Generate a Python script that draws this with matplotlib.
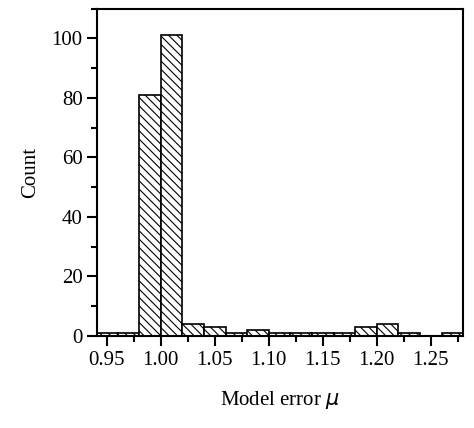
import matplotlib
matplotlib.use("Agg")
import matplotlib.pyplot as plt
from matplotlib.ticker import MultipleLocator

plt.rcParams['font.family'] = ['Liberation Serif']
plt.rcParams['hatch.linewidth'] = 0.8

bin_left = [0.94, 0.96, 0.98, 1.00, 1.02, 1.04, 1.06, 1.08, 1.10, 1.12, 1.14, 1.16, 1.18, 1.20, 1.22, 1.24, 1.26]
counts = [1, 1, 81, 101, 4, 3, 1, 2, 1, 1, 1, 1, 3, 4, 1, 0, 1]

fig = plt.figure(figsize=(4.74, 4.28), dpi=100)
ax = fig.add_axes([0.205, 0.215, 0.772, 0.765])
ax.bar(bin_left, counts, width=0.02, align='edge', facecolor='white', edgecolor='black', hatch='\\\\\\\\', linewidth=1.2)
ax.set_xlim(0.941, 1.28)
ax.set_ylim(0, 110)
ax.xaxis.set_major_locator(MultipleLocator(0.05))
ax.xaxis.set_minor_locator(MultipleLocator(0.025))
ax.yaxis.set_major_locator(MultipleLocator(20))
ax.yaxis.set_minor_locator(MultipleLocator(10))
ax.set_xticks([0.95, 1.00, 1.05, 1.10, 1.15, 1.20, 1.25])
ax.set_xticklabels(['0.95', '1.00', '1.05', '1.10', '1.15', '1.20', '1.25'])
ax.tick_params(which='major', length=7, width=1.5, labelsize=15)
ax.tick_params(which='minor', length=4, width=1.5)
for s in ax.spines.values():
    s.set_linewidth(1.5)
ax.set_xlabel(r'Model error $\mathit{\mu}$', fontsize=15, labelpad=14)
ax.set_ylabel('Count', fontsize=15, labelpad=8)
fig.savefig('out.png', dpi=100)
